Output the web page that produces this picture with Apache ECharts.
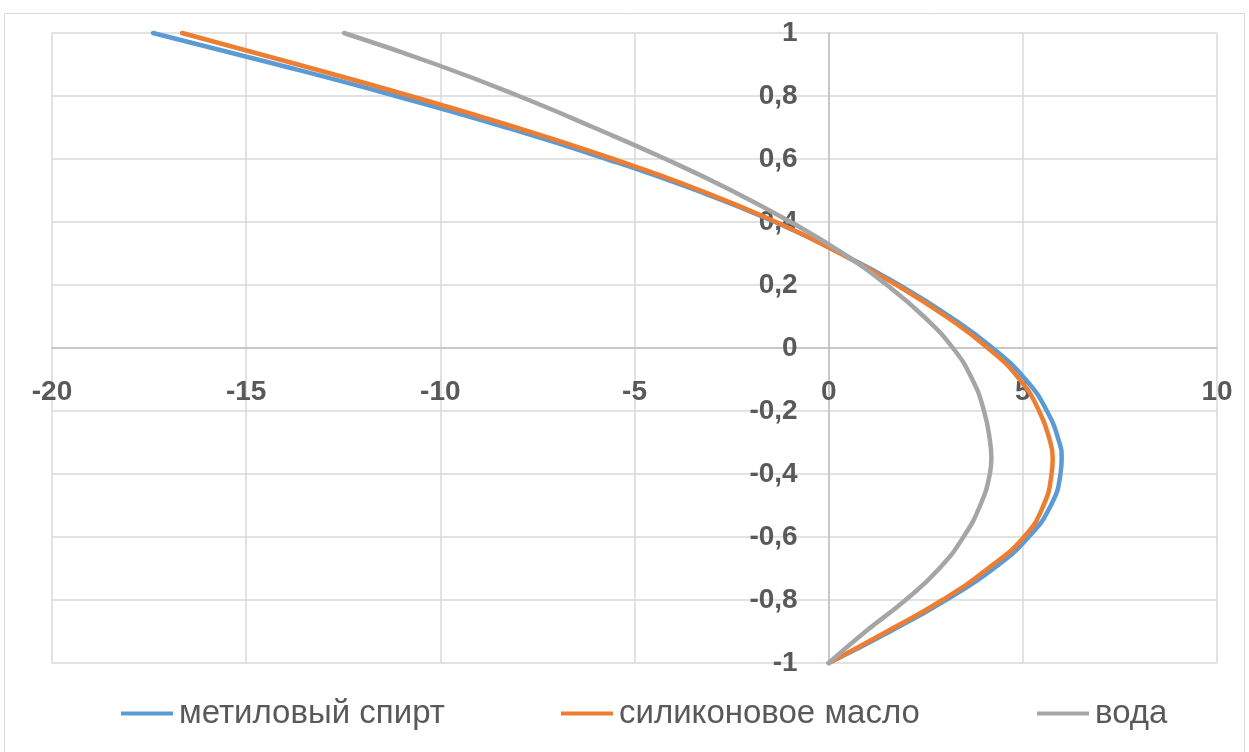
<!DOCTYPE html>
<html>
<head>
<meta charset="utf-8">
<script src="https://cdn.jsdelivr.net/npm/echarts@6/dist/echarts.min.js"></script>
<style>
  html, body { margin: 0; padding: 0; background: #ffffff; }
  #chart { width: 1249px; height: 752px; }
</style>
</head>
<body>
<div id="chart"></div>
<script>
// Transverse coordinate (vertical axis), shared by all three profiles
const yValues = [1, 0.9, 0.8, 0.7, 0.6, 0.5, 0.4, 0.3, 0.2, 0.1, 0,
                 -0.1, -0.2, -0.3, -0.35, -0.4, -0.5, -0.6, -0.7, -0.8, -0.9, -1];

// Velocity values (horizontal axis) for each liquid
const methanol = [-17.4, -14.2, -11.15, -8.3, -5.72, -3.4, -1.38, 0.32, 1.82, 3.12, 4.22,
                  5.07, 5.62, 5.94, 6.0, 5.97, 5.72, 5.15, 4.25, 3.02, 1.58, 0];
const siliconeOil = [-16.65, -13.67, -10.77, -8.05, -5.55, -3.3, -1.35, 0.3, 1.75, 3.02, 4.1,
                     4.92, 5.42, 5.71, 5.77, 5.74, 5.53, 5.03, 4.1, 2.93, 1.5, 0];
const water = [-12.48, -10.1, -7.98, -6.05, -4.2, -2.5, -0.98, 0.37, 1.5, 2.45, 3.2,
               3.7, 4.0, 4.16, 4.19, 4.15, 3.9, 3.47, 2.85, 1.98, 0.95, 0];

const seriesNames = ['метиловый спирт', 'силиконовое масло', 'вода'];
const seriesColors = ['#5b9bd5', '#ed7d31', '#a5a5a5'];
const seriesValues = [methanol, siliconeOil, water];

const xTicks = { min: -20, max: 10, step: 5 };
const yTicks = { min: -1, max: 1, step: 0.2 };

// Plot area in pixels
const W = 1249, H = 752;
const plot = { left: 52, right: 32, top: 33, bottom: 89 };
const plotW = W - plot.left - plot.right;
const plotH = H - plot.top - plot.bottom;

// Axes cross at zero: shift each axis line from its edge to the zero of the other axis
const yAxisShift = plotW * (0 - xTicks.min) / (xTicks.max - xTicks.min);
const xAxisShift = plotH * (0 - yTicks.min) / (yTicks.max - yTicks.min);

const labelFont = {
  fontFamily: 'Liberation Sans, Arial, sans-serif',
  fontWeight: 'bold',
  fontSize: 28,
  color: '#595959'
};

const chart = echarts.init(document.getElementById('chart'), null, { renderer: 'canvas' });

const legendLeft = [116, 556, 1032];

const option = {
  backgroundColor: '#ffffff',
  animation: false,
  graphic: [{
    type: 'rect',
    silent: true,
    z: -10,
    shape: { x: 4.5, y: 13.5, width: 1240, height: 800 },
    style: { fill: 'none', stroke: '#d9d9d9', lineWidth: 1 }
  }],
  grid: {
    left: plot.left, right: plot.right, top: plot.top, bottom: plot.bottom,
    containLabel: false,
    outerBoundsMode: 'none'
  },
  xAxis: {
    type: 'value',
    position: 'bottom',
    offset: -xAxisShift,
    min: xTicks.min, max: xTicks.max, interval: xTicks.step,
    axisLine: { show: true, onZero: false, lineStyle: { color: '#bfbfbf', width: 1.5 } },
    axisTick: { show: false },
    splitLine: { show: true, lineStyle: { color: '#d9d9d9', width: 1.5 } },
    axisLabel: Object.assign({ margin: 30, formatter: v => String(v) }, labelFont)
  },
  yAxis: {
    type: 'value',
    position: 'left',
    offset: -yAxisShift,
    min: yTicks.min, max: yTicks.max, interval: yTicks.step,
    axisLine: { show: true, onZero: false, lineStyle: { color: '#bfbfbf', width: 1.5 } },
    axisTick: { show: false },
    splitLine: { show: true, lineStyle: { color: '#d9d9d9', width: 1.5 } },
    axisLabel: Object.assign({
      margin: 31,
      formatter: v => String(+(+v).toFixed(1)).replace('.', ',')
    }, labelFont)
  },
  legend: seriesNames.map((name, i) => ({
    data: [name],
    left: legendLeft[i],
    top: 692,
    icon: 'rect',
    itemWidth: 52,
    itemHeight: 4,
    itemGap: 0,
    textStyle: {
      fontFamily: 'Liberation Sans, Arial, sans-serif',
      fontSize: 33,
      color: '#595959',
      padding: [0, 0, 0, 1]
    }
  })),
  series: seriesNames.map((name, i) => ({
    name: name,
    type: 'line',
    data: yValues.map((y, k) => [seriesValues[i][k], y]),
    smooth: 0.5,
    symbol: 'none',
    clip: false,
    lineStyle: { color: seriesColors[i], width: 4.5, cap: 'round' },
    itemStyle: { color: seriesColors[i] }
  }))
};

chart.setOption(option);
</script>
</body>
</html>
